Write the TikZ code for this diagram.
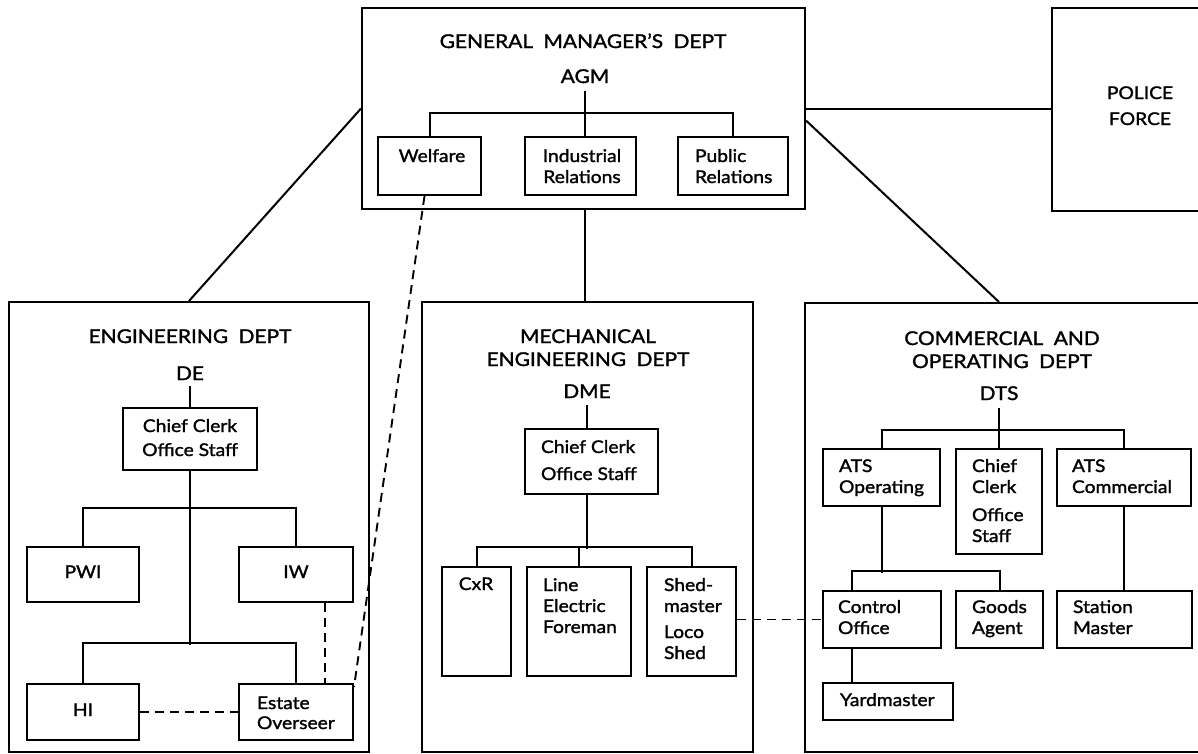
\documentclass[tikz,border=0pt]{standalone}
\usepackage{fontspec}
\setmainfont{Lato}[FakeStretch=1.1, FakeBold=1.5]
\newcommand\stack[2][l]{\begin{tabular}[t]{@{}#1@{}}#2\end{tabular}}
\newcommand\titlefont{\fontsize{19}{23}\selectfont\spaceskip=0.55em\relax}
\newcommand\boxfont{\fontsize{17.5}{21}\selectfont}
% box given by its corners (x1,y1) and (x2,y2), y measured downwards
\newcommand\orgbox[5]{\node[box, minimum width={#4-#2}, minimum height={#5-#3}] (#1) at ({(#2+#4)/2},{(#3+#5)/2}) {};}
\begin{document}
\begin{tikzpicture}[x=1pt, y=-1pt, line width=2pt,
  box/.style={draw, rectangle, inner sep=0pt, line width=2pt},
  bt/.style={inner sep=0pt, font=\boxfont},
  tt/.style={inner sep=0pt, font=\titlefont},
  dsh/.style={dash pattern=on 9pt off 6pt, line width=1.9pt}]
\useasboundingbox (0,0) rectangle (1198,753);
\clip (0,0) rectangle (1198,753);

% ---------- top level ----------
\orgbox{gm}{362}{8}{805}{209}
\orgbox{police}{1052}{8}{1230}{211}
\node[tt, anchor=base] (gmt) at (583,48) {GENERAL MANAGER'S DEPT};
\node[tt, anchor=base] (agm) at (585,83) {AGM};
\orgbox{welf}{378}{137}{481}{195}
\orgbox{indr}{525}{137}{636}{195}
\orgbox{pubr}{678}{137}{788}{195}
\node[bt, anchor=base] (welft) at (432,162) {Welfare};
\node[bt, anchor=base] (indrt) at (582,162) {\stack[c]{Industrial\\Relations}};
\node[bt, anchor=base west] (pubrt) at (694,162) {\stack{Public\\Relations}};
\node[bt, anchor=base] (polt) at (1140,99) {\stack[c]{POLICE\\[5pt]FORCE}};

\draw ([yshift=-8pt]agm.base) -- (agm.base |- indr.north);
\draw (welf.north) -- ++(0,-23) -| (pubr.north);

% ---------- departments ----------
\orgbox{eng}{9}{302}{369}{752}
\orgbox{mech}{422}{302}{753}{752}
\orgbox{comm}{805}{303}{1230}{752}

\draw (gm.east) -- (gm.east -| police.west);
\draw (gm.west) -- (eng.north);
\draw (gm.south -| 585,0) -- (mech.north -| 585,0);
\node[tt, anchor=base] (dts) at (999,400) {DTS};
\draw ([yshift=-12pt]gm.east) -- (dts.base |- comm.north);

% ---------- engineering ----------
\node[tt, anchor=base] (engt) at (190,343) {ENGINEERING DEPT};
\node[tt, anchor=base] (de) at (190,380) {DE};
\orgbox{ecc}{123}{408}{257}{470}
\node[bt, anchor=base] (ecct) at (190,432) {\stack[c]{Chief Clerk\\[3pt]Office Staff}};
\orgbox{pwi}{27}{547}{139}{602}
\orgbox{iw}{239}{547}{353}{602}
\orgbox{hi}{27}{684}{139}{740}
\orgbox{eo}{239}{684}{353}{740}
\node[bt, anchor=base] (pwit) at (83,578) {PWI};
\node[bt, anchor=base] (iwt) at (296,578) {IW};
\node[bt, anchor=base] (hit) at (83,716) {HI};
\node[bt, anchor=base west] (eot) at (256,709) {\stack{Estate\\[-1pt]Overseer}};

\draw ([yshift=-6pt]de.base) -- (ecc.north);
\draw (ecc.south) -- ++(0,174);
\draw (pwi.north) -- ++(0,-38) -| (iw.north);
\draw (hi.north) -- ++(0,-40) -| (eo.north);
\draw[dsh] (hi.east) -- (eo.west);
\draw[dsh] ([xshift=29pt]iw.south) -- ([xshift=29pt]eo.north);
\draw[dsh] ([xshift=-5pt]welf.south) -- ([yshift=-4pt]eo.north east);

% ---------- mechanical engineering ----------
\node[tt, anchor=base] (mecht) at (588,343) {\stack[c]{MECHANICAL\\ENGINEERING DEPT}};
\node[tt, anchor=base] (dme) at (587,398) {DME};
\orgbox{mcc}{525}{429}{658}{494}
\node[bt, anchor=base west] (mcct) at (540,453) {\stack{Chief Clerk\\[6pt]Office Staff}};
\orgbox{cxr}{442}{567}{511}{676}
\orgbox{lef}{527}{567}{631}{676}
\orgbox{shed}{647}{567}{736}{676}
\node[bt, anchor=base] (cxrt) at (476,590) {CxR};
\node[bt, anchor=base west] (left) at (542,591) {\stack{Line\\Electric\\Foreman}};
\node[bt, anchor=base west] (shedt) at (663,591) {\stack{Shed-\\master\\[5pt]Loco\\Shed}};

\draw ([yshift=-7pt]dme.base) -- (dme.base |- mcc.north);
\draw (dme.base |- mcc.south) -- ++(0,54);
\draw (cxr.north) -- ++(0,-19) -| (shed.north);
\draw (lef.north) -- ++(0,-19);

% ---------- commercial and operating ----------
\node[tt, anchor=base] (commt) at (1002,345) {\stack[c]{COMMERCIAL AND\\OPERATING DEPT}};
\orgbox{atso}{823}{449}{940}{506}
\orgbox{cc3}{956}{449}{1042}{554}
\orgbox{atsc}{1057}{449}{1191}{506}
\orgbox{ctrl}{823}{591}{941}{648}
\orgbox{goods}{956}{591}{1043}{648}
\orgbox{stm}{1057}{591}{1192}{648}
\orgbox{yard}{823}{683}{953}{720}
\node[bt, anchor=base west] (atsot) at (838,472) {\stack{ATS\\Operating}};
\node[bt, anchor=base west] (cc3t) at (971,472) {\stack{Chief\\Clerk\\[7pt]Office\\Staff}};
\node[bt, anchor=base west] (atsct) at (1071,472) {\stack{ATS\\Commercial}};
\node[bt, anchor=base west] (ctrlt) at (837,613) {\stack{Control\\Office}};
\node[bt, anchor=base west] (goodst) at (971,613) {\stack{Goods\\Agent}};
\node[bt, anchor=base west] (stmt) at (1072,613) {\stack{Station\\Master}};
\node[bt, anchor=base west] (yardt) at (839,706) {Yardmaster};

\draw ([yshift=-8pt]dts.base) -- (cc3.north);
\draw (atso.north) -- ++(0,-18) -| (atsc.north);
\draw (atso.south) -- ++(0,66);
\draw ([xshift=-30pt]ctrl.north) -- ++(0,-19) -| (goods.north);
\draw (atsc.south) -- (atsc.south |- stm.north);
\draw ([xshift=-30pt]ctrl.south) -- ([xshift=-30pt]ctrl.south |- yard.north);
\draw[dsh] (shed.east |- ctrl.west) -- (ctrl.west);
\end{tikzpicture}
\end{document}
